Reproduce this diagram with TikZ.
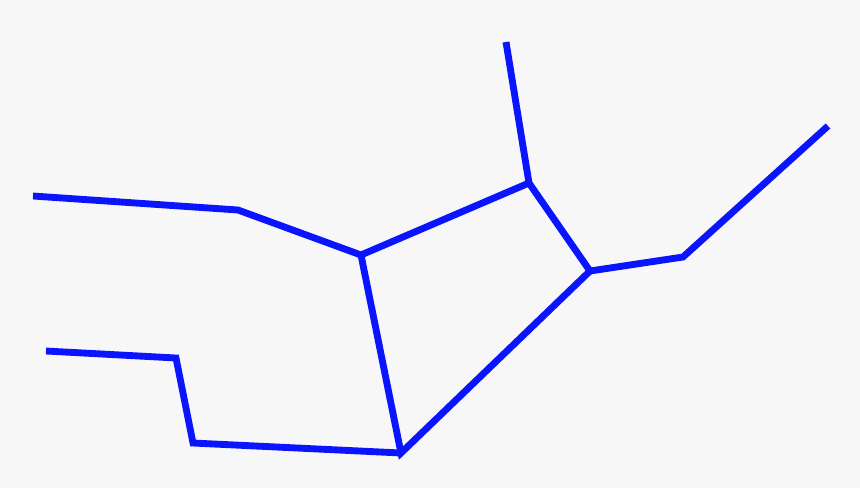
\documentclass[tikz,border=0pt]{standalone}
\usepackage{tikz}
\definecolor{bondblue}{RGB}{10,20,255}
\definecolor{paper}{RGB}{247,247,247}
\tikzstyle{bond}=[draw=bondblue,line width=3.9pt,line join=miter,line cap=butt]

\begin{document}
\begin{tikzpicture}[x=0.02cm,y=-0.02cm]
      \fill[paper] (0,0) rectangle (860,488);
      \useasboundingbox (0,0) rectangle (860,488);
      % atoms
      \coordinate (c1) at (33,196);
      \coordinate (c2) at (238,210);
      \coordinate (r1) at (361,255);
      \coordinate (r2) at (529,183);
      \coordinate (r3) at (590,271);
      \coordinate (r4) at (401,453);
      \coordinate (m1) at (506,42);
      \coordinate (e1) at (683,257);
      \coordinate (e2) at (828,126);
      \coordinate (s1) at (193,443);
      \coordinate (s2) at (176,358);
      \coordinate (s3) at (46,351);
      % bonds
      \draw[bond] (c1) -- (c2) -- (r1);
      \draw[bond] (r1) -- (r2) -- (r3) -- (r4) -- cycle;
      \draw[bond] (r2) -- (m1);
      \draw[bond] (r3) -- (e1) -- (e2);
      \draw[bond] (r4) -- (s1) -- (s2) -- (s3);
    \end{tikzpicture}
\end{document}
